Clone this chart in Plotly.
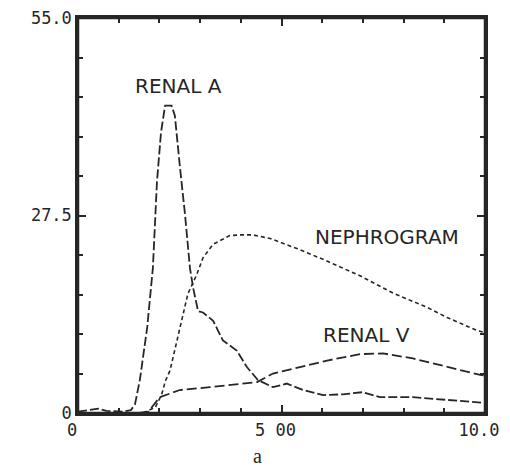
import plotly.graph_objects as go

# Renal artery curve
renal_a_x = [0.0, 0.3, 0.5, 0.7, 0.9, 1.1, 1.3, 1.4, 1.52, 1.7, 1.84, 1.94, 2.04, 2.14, 2.3, 2.38, 2.5,
             2.63, 2.75, 2.83, 2.95, 3.07, 3.32, 3.56, 3.9, 4.15, 4.42, 4.79, 5.13, 5.53, 6.02, 6.5,
             7.0, 7.42, 8.23, 9.07, 9.88, 10.0]
renal_a_y = [0.2, 0.5, 0.6, 0.3, 0.2, 0.2, 0.4, 1.2, 4.6, 11.9, 20.2, 32.2, 39.1, 42.8, 42.8, 41.4, 34.5,
             27.6, 20.2, 17.4, 14.2, 14.0, 12.85, 10.1, 8.7, 6.4, 4.6, 3.6, 4.1, 3.2, 2.5, 2.6,
             2.9, 2.2, 2.2, 1.8, 1.5, 1.4]

# Nephrogram curve
neph_x = [1.6, 1.9, 2.05, 2.15, 2.26, 2.5, 2.7, 2.92, 3.07, 3.32, 3.73, 3.98, 4.3, 4.72, 5.38, 6.02,
          6.93, 7.74, 8.58, 9.07, 9.8, 10.0]
neph_y = [0.0, 0.8, 2.5, 4.5, 5.9, 11.9, 16.6, 19.3, 21.6, 23.5, 24.7, 24.8, 24.8, 24.3, 22.9, 21.4,
          19.1, 16.7, 14.7, 13.3, 11.5, 11.2]

# Renal vein curve
renal_v_x = [1.5, 1.73, 2.01, 2.5, 3.24, 3.98, 4.4, 4.79, 5.45, 6.12, 6.93, 7.49, 8.23, 9.07, 9.88, 10.0]
renal_v_y = [0.0, 0.2, 2.2, 3.2, 3.6, 4.1, 4.3, 5.5, 6.4, 7.3, 8.2, 8.3, 7.6, 6.4, 5.3, 5.2]

# Axis ticks
x_tickvals = [0, 5, 10]
x_ticktext = ["0", "5 00", "10.0"]
y_tickvals = [0, 27.5, 55]
y_ticktext = ["0", "27.5", "55.0"]

# Curve labels
label_text = ["RENAL A", "NEPHROGRAM", "RENAL V"]
label_x = [2.46, 7.6, 7.08]
label_y = [45.5, 24.5, 10.9]

ink = "#262626"
fig = go.Figure()
fig.add_trace(go.Scatter(x=renal_a_x, y=renal_a_y, mode="lines",
                         line=dict(color=ink, width=1.8, dash="9px,3px")))
fig.add_trace(go.Scatter(x=neph_x, y=neph_y, mode="lines",
                         line=dict(color=ink, width=1.6, dash="4px,3px")))
fig.add_trace(go.Scatter(x=renal_v_x, y=renal_v_y, mode="lines",
                         line=dict(color=ink, width=1.8, dash="10px,4px")))

for t, xx, yy in zip(label_text, label_x, label_y):
    fig.add_annotation(x=xx, y=yy, text=t, showarrow=False,
                       font=dict(family="DejaVu Sans", size=20, color=ink))

fig.add_annotation(x=0.44, y=-0.142, xref="paper", yref="paper", text="a", showarrow=False,
                   font=dict(family="Liberation Serif", size=20, color=ink))

# plot frame
fig.add_shape(type="rect", xref="paper", yref="paper", x0=0, x1=1, y0=0, y1=1,
              line=dict(color=ink, width=2.5), fillcolor="rgba(0,0,0,0)", layer="above")

fig.update_layout(
    width=494, height=458,
    margin=dict(l=70, r=17, t=10, b=53),
    paper_bgcolor="white", plot_bgcolor="white",
    showlegend=False,
    font=dict(family="DejaVu Sans Mono", size=17, color=ink),
)
fig.update_xaxes(range=[0, 10], tickvals=x_tickvals, ticktext=x_ticktext, automargin=False,
                 ticklabeloverflow="allow", ticklabelshift=-6,
                 ticks="inside", ticklen=8, tickwidth=2, tickcolor=ink,
                 showline=True, linecolor=ink, linewidth=2.5, mirror="ticks",
                 showgrid=False, zeroline=False,
                 minor=dict(dtick=1, ticks="inside", ticklen=5, tickwidth=1.5, tickcolor=ink))
fig.update_yaxes(range=[0, 55], tickvals=y_tickvals, ticktext=y_ticktext, automargin=False,
                 ticklabeloverflow="allow",
                 ticks="inside", ticklen=8, tickwidth=2, tickcolor=ink,
                 showline=True, linecolor=ink, linewidth=2.5, mirror="ticks",
                 showgrid=False, zeroline=False,
                 minor=dict(dtick=5.5, ticks="inside", ticklen=5, tickwidth=1.5, tickcolor=ink))

fig.write_html("out.html")
